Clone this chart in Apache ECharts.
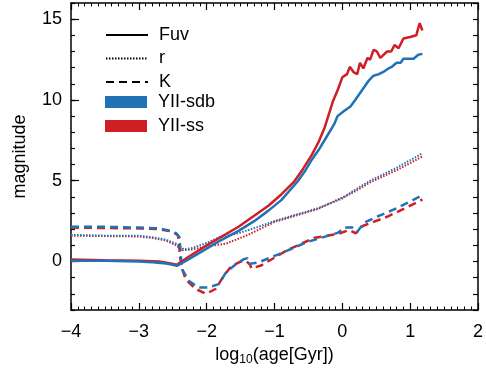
<!DOCTYPE html>
<html>
<head>
<meta charset="utf-8">
<script src="https://cdn.jsdelivr.net/npm/echarts@6/dist/echarts.min.js"></script>
<style>html,body{margin:0;padding:0;background:#fff}#c{width:486px;height:371px}</style>
</head>
<body>
<div id="c"></div>
<script>
// ---- data ----
var fuvSdb = [[-4.0,0.05],[-3.5,0.05],[-3.0,0.0],[-2.8,-0.05],[-2.6,-0.12],[-2.5,-0.2],[-2.44,-0.27],[-2.3,0.05],[-2.0,0.8],[-1.8,1.3],[-1.53,1.9],[-1.3,2.5],[-1.09,3.15],[-0.9,3.8],[-0.66,4.95],[-0.55,5.6],[-0.45,6.3],[-0.35,6.9],[-0.22,7.8],[-0.12,8.5],[-0.07,9.0],[0.02,9.3],[0.12,9.6],[0.19,10.0],[0.29,10.6],[0.39,11.2],[0.46,11.5],[0.54,11.6],[0.61,11.75],[0.68,11.95],[0.73,12.05],[0.8,12.3],[0.86,12.3],[0.9,12.55],[1.05,12.55],[1.12,12.8],[1.18,12.85]];
var fuvSs = [[-4.0,0.12],[-3.5,0.08],[-3.0,0.05],[-2.7,0.0],[-2.55,-0.1],[-2.44,-0.2],[-2.3,0.2],[-2.0,1.0],[-1.53,2.15],[-1.09,3.45],[-0.9,4.15],[-0.71,4.95],[-0.6,5.6],[-0.45,6.6],[-0.35,7.4],[-0.26,8.3],[-0.14,9.9],[-0.07,10.6],[0.0,11.4],[0.07,11.6],[0.11,12.05],[0.17,11.7],[0.22,11.6],[0.26,12.3],[0.31,11.95],[0.37,12.6],[0.41,12.5],[0.46,13.1],[0.51,13.0],[0.56,12.6],[0.66,13.0],[0.72,13.0],[0.77,13.4],[0.83,13.2],[0.9,13.8],[1.0,13.9],[1.09,14.0],[1.14,14.75],[1.18,14.3]];
var rSdb = [[-4.0,1.65],[-3.5,1.6],[-3.0,1.6],[-2.8,1.5],[-2.6,1.35],[-2.45,1.1],[-2.38,0.85],[-2.33,0.75],[-2.2,0.85],[-2.0,1.15],[-1.82,1.5],[-1.53,1.75],[-1.2,2.2],[-0.95,2.57],[-0.6,3.0],[-0.36,3.3],[0.0,3.9],[0.17,4.4],[0.41,5.0],[0.8,5.8],[1.18,6.7]];
var rSs = [[-4.0,1.6],[-3.0,1.55],[-2.8,1.45],[-2.6,1.3],[-2.45,1.0],[-2.35,0.7],[-2.2,0.75],[-2.0,0.95],[-1.72,1.1],[-1.39,1.65],[-1.0,2.45],[-0.36,3.25],[0.17,4.3],[0.41,4.9],[0.8,5.65],[1.18,6.5]];
var kSdb = [[-4.0,2.15],[-3.5,2.15],[-3.0,2.1],[-2.7,2.05],[-2.55,1.9],[-2.45,1.75],[-2.4,1.5],[-2.38,0.3],[-2.36,-0.5],[-2.26,-1.2],[-2.12,-1.6],[-1.97,-1.6],[-1.82,-1.4],[-1.72,-0.7],[-1.58,-0.2],[-1.45,0.15],[-1.4,0.2],[-1.37,-0.15],[-1.31,-0.1],[-1.24,-0.06],[-0.95,0.43],[-0.51,1.22],[-0.07,1.77],[0.03,2.1],[0.15,2.1],[0.22,1.85],[0.32,2.4],[0.51,2.77],[0.8,3.3],[1.18,4.1]];
var kSs = [[-4.0,2.1],[-3.0,2.05],[-2.7,2.0],[-2.5,1.85],[-2.42,1.6],[-2.39,0.2],[-2.35,-0.6],[-2.31,-1.1],[-2.16,-1.7],[-2.01,-2.0],[-1.87,-1.7],[-1.75,-0.9],[-1.64,-0.3],[-1.5,0.0],[-1.42,0.05],[-1.36,-0.2],[-1.34,-0.43],[-1.2,-0.25],[-0.8,0.73],[-0.41,1.47],[-0.07,1.7],[0.1,1.95],[0.2,1.75],[0.3,2.2],[0.66,2.77],[1.12,3.7],[1.18,3.85]];
var styleNames = ['Fuv','r','K'];
var modelNames = ['YII-sdb','YII-ss'];
var yMajor = [0,5,10,15];

var BLUE = '#2171b5', RED = '#cf1f25';
var FONT = 'Liberation Sans';
var DOT = [1.5,1.5], DASH = [8,5];

function line(name, data, color, type, width) {
  return {name: name, type: 'line', data: data, symbol: 'none', silent: true,
    lineStyle: {color: color, width: width, type: type}, itemStyle: {color: color},
    animation: false, z: 3};
}

var chart = echarts.init(document.getElementById('c'), null, {renderer: 'canvas'});
var axisLine = {show: true, onZero: false, lineStyle: {color: '#000', width: 1.5}};
chart.setOption({
  animation: false,
  grid: {left: 71, right: 5, top: 3, bottom: 61},
  legend: [
    {data: styleNames, orient: 'vertical', left: 105, top: 26, itemWidth: 42, itemHeight: 14, itemGap: 5.5,
     padding: 0, selectedMode: false,
     itemStyle: {color: 'rgba(0,0,0,0)', borderWidth: 0, opacity: 0},
     textStyle: {fontSize: 18, color: '#000', fontFamily: FONT, lineHeight: 14, padding: [0,0,0,6]}},
    {data: modelNames, orient: 'vertical', left: 105, top: 93, itemWidth: 42, itemHeight: 12, itemGap: 6,
     padding: 0, icon: 'rect', selectedMode: false,
     textStyle: {fontSize: 18, color: '#000', fontFamily: FONT, lineHeight: 12, padding: [0,0,0,6]}}
  ],
  xAxis: [
    {type: 'value', min: -4, max: 2, interval: 1, position: 'bottom',
     axisLine: axisLine, splitLine: {show: false},
     axisTick: {inside: true, length: 7, lineStyle: {color: '#000', width: 1.2}},
     minorTick: {show: true, splitNumber: 10, length: 3.5, lineStyle: {color: '#000', width: 1}},
     axisLabel: {fontSize: 18, color: '#000', fontFamily: FONT, margin: 13,
       formatter: function (v) { return v < 0 ? '\u2212' + Math.abs(v) : String(v); }},
     name: '{a|log}{s|10}{a|(age[Gyr])}', nameLocation: 'middle', nameGap: 28,
     nameTextStyle: {rich: {
       a: {fontSize: 18, color: '#000', fontFamily: FONT, lineHeight: 22},
       s: {fontSize: 12, color: '#000', fontFamily: FONT, lineHeight: 22, verticalAlign: 'bottom', padding: [8,0,0,0]}
     }}},
    {type: 'value', min: -4, max: 2, interval: 1, position: 'top',
     axisLine: axisLine, splitLine: {show: false},
     axisTick: {inside: true, length: 7, lineStyle: {color: '#000', width: 1.2}},
     minorTick: {show: true, splitNumber: 10, length: 3.5, lineStyle: {color: '#000', width: 1}},
     axisLabel: {show: false}}
  ],
  yAxis: [
    {type: 'value', min: -3, max: 16, interval: 1, position: 'left',
     axisLine: axisLine, splitLine: {show: false},
     axisTick: {inside: true, length: 4, lineStyle: {color: '#000', width: 1.2}},
     axisLabel: {fontSize: 18, color: '#000', fontFamily: FONT, margin: 9,
       formatter: function (v) { return (v % 5 === 0) ? (v < 0 ? '\u2212' + Math.abs(v) : String(v)) : ''; }},
     name: 'magnitude', nameLocation: 'middle', nameGap: 42,
     nameTextStyle: {fontSize: 18, color: '#000', fontFamily: FONT}},
    {type: 'value', min: -3, max: 16, position: 'left', offset: 0,
     axisLine: {show: false, onZero: false}, splitLine: {show: false},
     axisTick: {show: true, inside: true, length: 8, customValues: yMajor, lineStyle: {color: '#000', width: 1.2}},
     axisLabel: {show: false}},
    {type: 'value', min: -3, max: 16, interval: 1, position: 'right',
     axisLine: axisLine, splitLine: {show: false},
     axisTick: {inside: true, length: 5, lineStyle: {color: '#000', width: 1.2}},
     axisLabel: {show: false}}
  ],
  series: [
    line('Fuv', [], '#000', 'solid', 2),
    line('r', [], '#000', DOT, 2),
    line('K', [], '#000', DASH, 2),
    line('YII-sdb', [], BLUE, 'solid', 2),
    line('YII-ss', [], RED, 'solid', 2),
    line('K ss', kSs, RED, DASH, 2.5),
    line('K sdb', kSdb, BLUE, DASH, 2.5),
    line('r ss', rSs, RED, DOT, 2),
    line('r sdb', rSdb, BLUE, DOT, 2),
    line('Fuv ss', fuvSs, RED, 'solid', 2.5),
    line('Fuv sdb', fuvSdb, BLUE, 'solid', 2.5)
  ]
});
</script>
</body>
</html>
